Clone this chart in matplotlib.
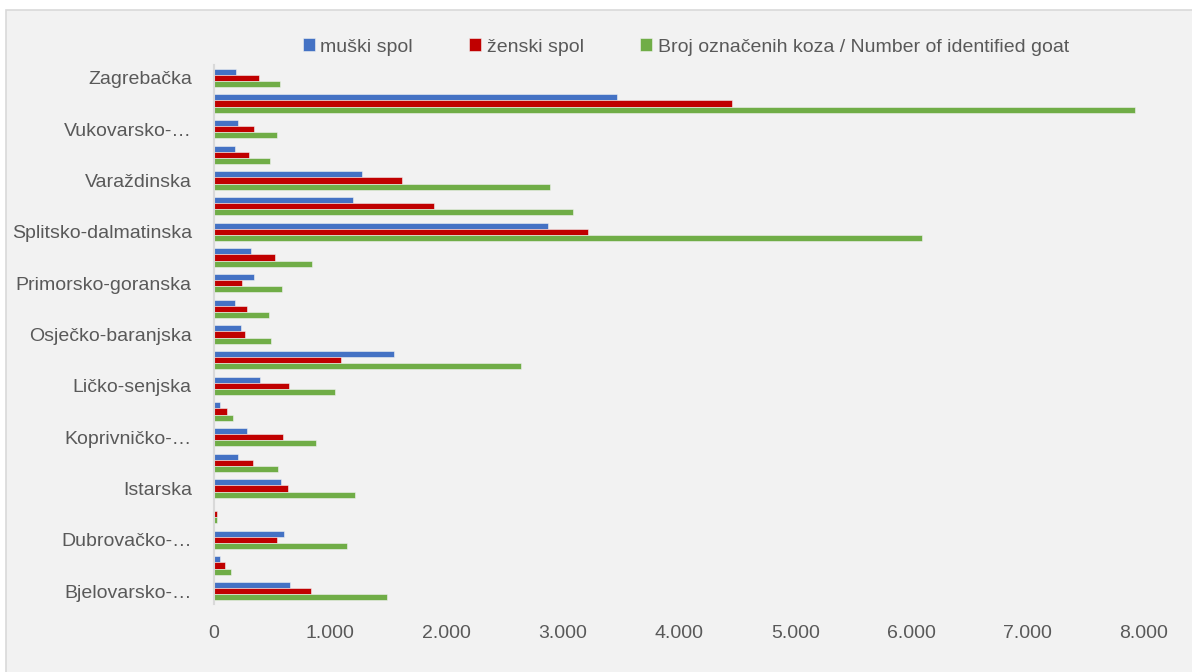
import matplotlib
matplotlib.use("Agg")
import matplotlib.pyplot as plt
from matplotlib.patches import Rectangle
from matplotlib.ticker import FuncFormatter
import numpy as np

plt.rcParams['font.family'] = ['Liberation Sans', 'DejaVu Sans']

# counties, bottom to top as in the chart
counties = ['Bjelovarsko-bilogorska', 'Brodsko-posavska', 'Dubrovačko-neretvanska', 'Grad Zagreb',
            'Istarska', 'Karlovačka', 'Koprivničko-križevačka', 'Krapinsko-zagorska', 'Ličko-senjska',
            'Međimurska', 'Osječko-baranjska', 'Požeško-slavonska', 'Primorsko-goranska',
            'Sisačko-moslavačka', 'Splitsko-dalmatinska', 'Šibensko-kninska', 'Varaždinska',
            'Virovitičko-podravska', 'Vukovarsko-srijemska', 'Zadarska', 'Zagrebačka']
male = [658, 52, 602, 0, 579, 210, 286, 49, 394, 1550, 233, 181, 345, 318, 2873, 1195, 1274, 179, 206, 3467, 189]
female = [832, 95, 546, 30, 638, 338, 595, 111, 641, 1089, 263, 286, 242, 524, 3219, 1895, 1616, 302, 344, 4456, 387]
total = [1487, 144, 1148, 30, 1214, 549, 878, 161, 1039, 2640, 492, 471, 588, 839, 6090, 3088, 2888, 482, 540, 7923, 568]

# only every other label is shown, truncated as in the original
shown_labels = ['Bjelovarsko-…', 'Dubrovačko-…', 'Istarska', 'Koprivničko-…', 'Ličko-senjska',
                'Osječko-baranjska', 'Primorsko-goranska', 'Splitsko-dalmatinska', 'Varaždinska',
                'Vukovarsko-…', 'Zagrebačka']
series_names = ['muški spol', 'ženski spol', 'Broj označenih koza / Number of identified goat']
x_ticks = [0, 1000, 2000, 3000, 4000, 5000, 6000, 7000, 8000]

fig = plt.figure(figsize=(11.92, 6.72), dpi=100)
fig.patch.set_facecolor('white')
fig.patches.append(Rectangle((6 / 1192, -0.01), 1.02, (672 - 10) / 672 + 0.01,
                             transform=fig.transFigure, facecolor='#f2f2f2',
                             edgecolor='#d9d9d9', linewidth=1.2, zorder=-10))

ax = fig.add_axes([214 / 1192, (672 - 604) / 672, (1144 - 214) / 1192, (604 - 65) / 672])
ax.set_facecolor('none')

y = np.arange(len(counties))
h = 0.24
colors = ['#4472C4', '#C00000', '#70AD47']
for vals, off, c, name in zip([male, female, total], [h, 0, -h], colors, series_names):
    ax.barh(y + off, vals, height=h, color=c, edgecolor='#f2f2f2', linewidth=0.4, label=name)

ax.set_xlim(0, 8000)
ax.set_ylim(-0.5, len(counties) - 0.5)
ax.set_xticks(x_ticks)
ax.xaxis.set_major_formatter(FuncFormatter(lambda v, p: f'{int(v):,}'.replace(',', '.')))
ax.set_yticks(y[::2])
ax.set_yticklabels(shown_labels)

for s in ['top', 'right', 'bottom']:
    ax.spines[s].set_visible(False)
ax.spines['left'].set_color('#d9d9d9')
ax.spines['left'].set_linewidth(1.5)
ax.tick_params(axis='both', length=0, labelsize=14, colors='#595959')
ax.tick_params(axis='y', pad=16)
ax.tick_params(axis='x', pad=15)

fig.legend(loc='center', bbox_to_anchor=(686 / 1192, (672 - 47) / 672), ncol=3,
           frameon=False, fontsize=14, handlelength=0.6, handleheight=0.6,
           handletextpad=0.3, columnspacing=2.9, labelcolor='#595959')

fig.savefig('out.png', dpi=100, facecolor=fig.get_facecolor())
